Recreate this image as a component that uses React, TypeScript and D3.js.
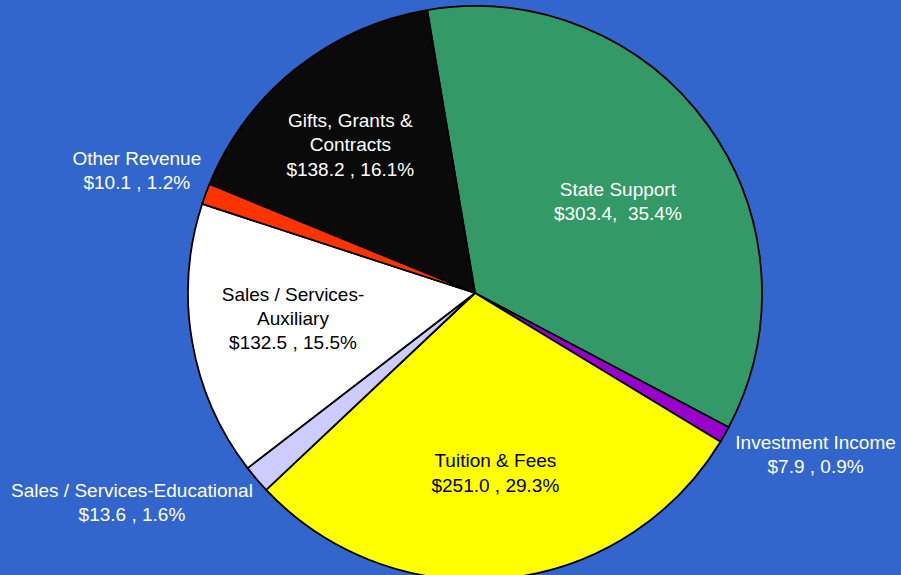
import React from "react";
import * as d3 from "d3";

const categories = [
  "State Support",
  "Investment Income",
  "Tuition & Fees",
  "Sales / Services-Educational",
  "Sales / Services-Auxiliary",
  "Other Revenue",
  "Gifts, Grants & Contracts",
];
const values = [303.4, 7.9, 251.0, 13.6, 132.5, 10.1, 138.2];
const labelLines = [
  ["State Support", "$303.4,  35.4%"],
  ["Investment Income", "$7.9 , 0.9%"],
  ["Tuition & Fees", "$251.0 , 29.3%"],
  ["Sales / Services-Educational", "$13.6 , 1.6%"],
  ["Sales / Services-", "Auxiliary", "$132.5 , 15.5%"],
  ["Other Revenue", "$10.1 , 1.2%"],
  ["Gifts, Grants &", "Contracts", "$138.2 , 16.1%"],
];
const colors = ["#339966", "#9900CC", "#FFFF00", "#CCCCFF", "#FFFFFF", "#FF3300", "#0A0A0A"];
const textColors = ["#FFFFFF", "#FFFFFF", "#000000", "#FFFFFF", "#000000", "#FFFFFF", "#FFFFFF"];

// layout (not data)
const W = 901, H = 575;
const CX = 475, CY = 293, R = 287;
const START_DEG = -9.6;
const labelLayout = [
  { outside: false, dx: -6, dy: 16 },
  { outside: true, dx: 41, dy: -9 },
  { outside: false, dx: 1, dy: -3 },
  { outside: true, dx: -81, dy: -14 },
  { outside: false, dx: -1, dy: -6 },
  { outside: true, dx: -15, dy: -4 },
  { outside: false, dx: -10, dy: -5 },
];
const FONT = 19;
const LINE_H = 24.2;

export default function App() {
  const start = (START_DEG * Math.PI) / 180;
  const pie = d3
    .pie<number>()
    .sort(null)
    .startAngle(start)
    .endAngle(start + 2 * Math.PI)
    .value((d) => d);
  const arcs = pie(values);
  const arc = d3.arc<d3.PieArcDatum<number>>().innerRadius(0).outerRadius(R);
  const inArc = d3.arc<d3.PieArcDatum<number>>().innerRadius(R * 0.64).outerRadius(R * 0.64);
  const outArc = d3.arc<d3.PieArcDatum<number>>().innerRadius(R * 1.2).outerRadius(R * 1.2);

  return (
    <div style={{ position: "absolute", left: 0, top: 0 }}>
      <svg width={W} height={H} style={{ display: "block" }}>
        <rect width={W} height={H} fill="#3366CC" />
        <g transform={`translate(${CX},${CY})`}>
          {arcs.map((a, i) => (
            <path
              key={categories[i]}
              d={arc(a) || ""}
              fill={colors[i]}
              stroke="#000"
              strokeWidth={1.8}
              strokeLinejoin="round"
            />
          ))}
          {arcs.map((a, i) => {
            const lay = labelLayout[i];
            const [x, y] = (lay.outside ? outArc : inArc).centroid(a);
            const cx = x + lay.dx;
            const cy = y + lay.dy;
            const lines = labelLines[i];
            const n = lines.length;
            return (
              <text
                key={"t" + i}
                textAnchor="middle"
                fontFamily="'Liberation Sans', Arial, sans-serif"
                fontSize={FONT}
                fill={textColors[i]}
                style={{ whiteSpace: "pre" }}
              >
                {lines.map((ln, j) => (
                  <tspan key={j} x={cx} y={cy + (j - (n - 1) / 2) * LINE_H + FONT * 0.36}>
                    {ln}
                  </tspan>
                ))}
              </text>
            );
          })}
        </g>
      </svg>
    </div>
  );
}
